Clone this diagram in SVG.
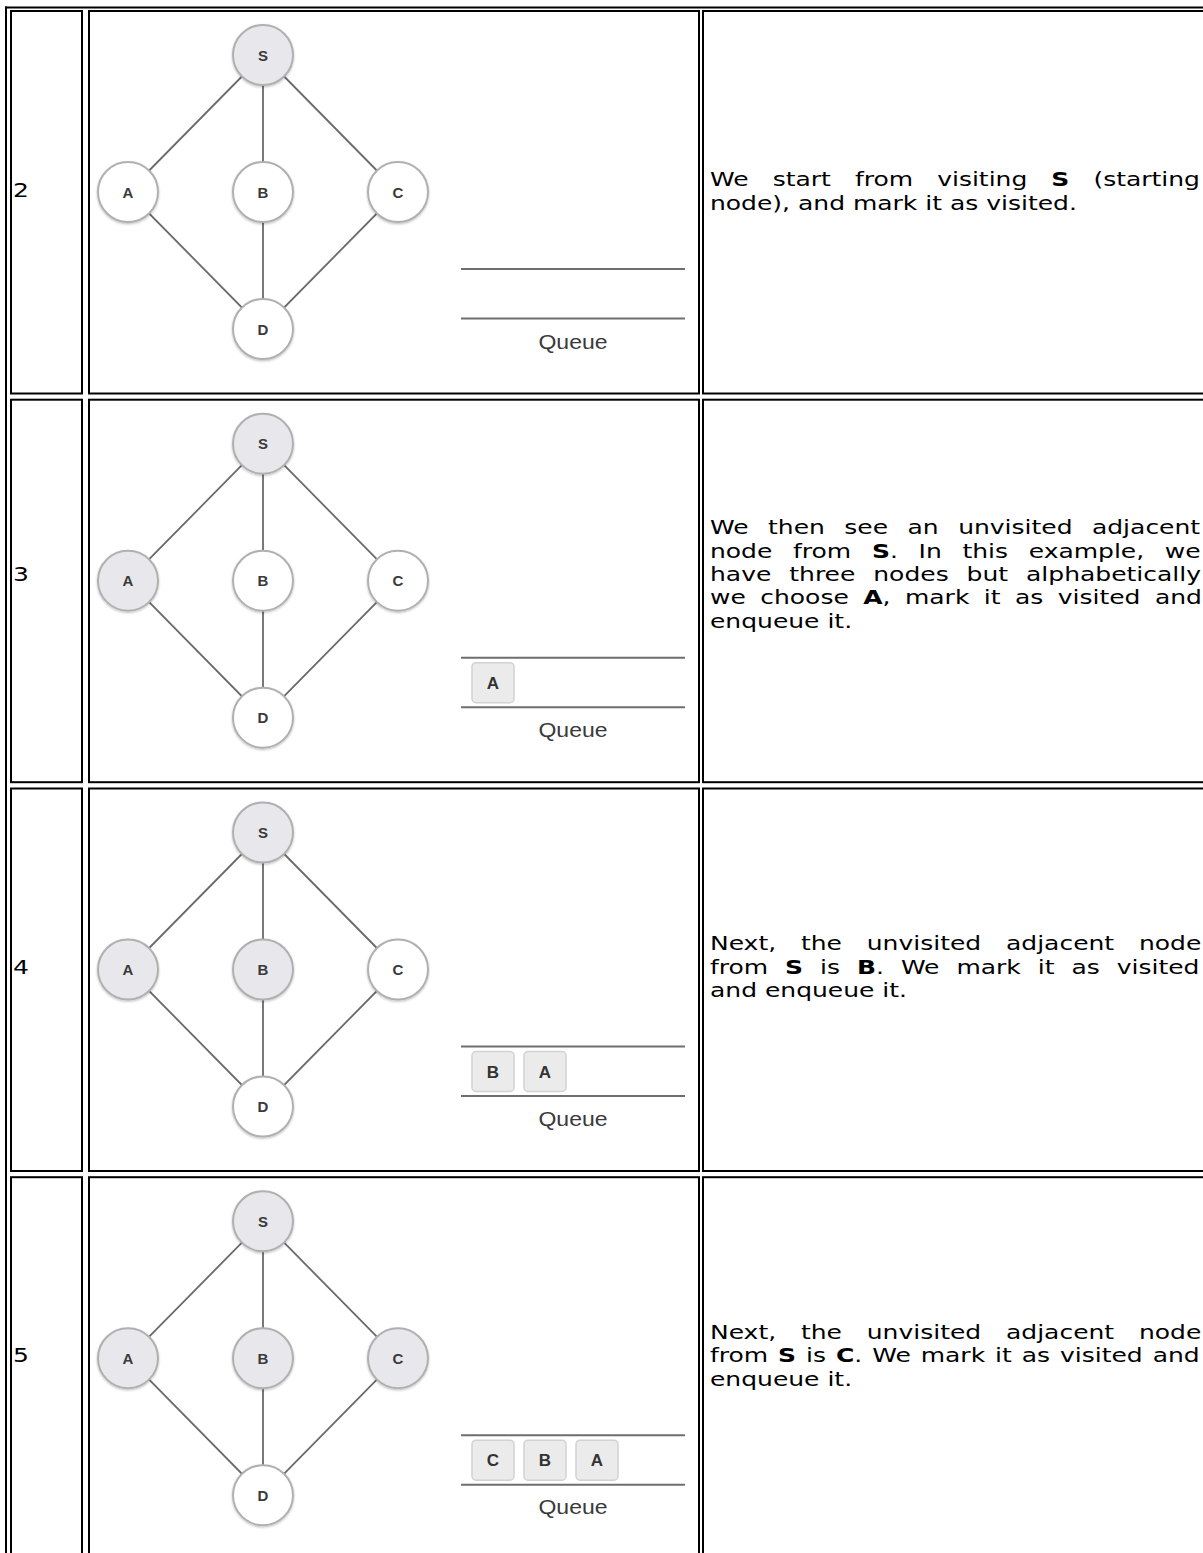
<svg xmlns="http://www.w3.org/2000/svg" width="1203" height="1553" viewBox="0 0 1203 1553">
<defs>
<style>
.cell{fill:none;stroke:#000;stroke-width:2}
.edge{stroke:#6a6a6a;stroke-width:1.8;fill:none}
.node{stroke:#b0b0b0;stroke-width:2}
.unv{fill:#ffffff}
.vis{fill:#e8e8ec}
.nl{font-family:"Liberation Sans",Arial,sans-serif;font-weight:bold;font-size:15px;fill:#3a3a3a;text-anchor:middle}
.ql{stroke:#6e6e6e;stroke-width:2}
.qb{fill:#ebebeb;stroke:#d2d2d2;stroke-width:1.5}
.qbl{font-family:"Liberation Sans",Arial,sans-serif;font-weight:bold;font-size:17px;fill:#333;text-anchor:middle}
.qt{font-family:"Liberation Sans",Arial,sans-serif;font-size:20px;fill:#3a3a3a;text-anchor:middle}
.t{font-family:"DejaVu Sans",Verdana,sans-serif;font-size:20px;fill:#000}
.b{font-weight:bold}
</style>
<filter id="sh" x="-20%" y="-20%" width="140%" height="150%">
<feDropShadow dx="0" dy="1.2" stdDeviation="1.2" flood-color="#000" flood-opacity="0.25"/>
</filter>
</defs>
<rect width="1203" height="1553" fill="#fff"/>

<g id="table">
<line x1="5" y1="7.5" x2="1203" y2="7.5" stroke="#000" stroke-width="2"/>
<line x1="6" y1="6.5" x2="6" y2="1553" stroke="#000" stroke-width="2"/>
<rect class="cell" x="11" y="11" width="71" height="382.5"/>
<rect class="cell" x="89" y="11" width="610" height="382.5"/>
<rect class="cell" x="703" y="11" width="540" height="382.5"/>
<rect class="cell" x="11" y="399.7" width="71" height="382.5"/>
<rect class="cell" x="89" y="399.7" width="610" height="382.5"/>
<rect class="cell" x="703" y="399.7" width="540" height="382.5"/>
<rect class="cell" x="11" y="788.5" width="71" height="382.5"/>
<rect class="cell" x="89" y="788.5" width="610" height="382.5"/>
<rect class="cell" x="703" y="788.5" width="540" height="382.5"/>
<rect class="cell" x="11" y="1177.2" width="71" height="382.5"/>
<rect class="cell" x="89" y="1177.2" width="610" height="382.5"/>
<rect class="cell" x="703" y="1177.2" width="540" height="382.5"/>
</g>

<g id="connectors">
<path class="edge" d="M263 55L128 192M263 55L263 192M263 55L398 192M128 192L263 329M263 192L263 329M398 192L263 329"/>
<path class="edge" d="M263 443.7L128 580.7M263 443.7L263 580.7M263 443.7L398 580.7M128 580.7L263 717.7M263 580.7L263 717.7M398 580.7L263 717.7"/>
<path class="edge" d="M263 832.5L128 969.5M263 832.5L263 969.5M263 832.5L398 969.5M128 969.5L263 1106.5M263 969.5L263 1106.5M398 969.5L263 1106.5"/>
<path class="edge" d="M263 1221.2L128 1358.2M263 1221.2L263 1358.2M263 1221.2L398 1358.2M128 1358.2L263 1495.2M263 1358.2L263 1495.2M398 1358.2L263 1495.2"/>
</g>

<g id="step2-nodes">
<g id="s2-S"><circle class="node vis" filter="url(#sh)" cx="263" cy="55" r="30"/><text class="nl" x="263" y="60.5">S</text></g>
<g id="s2-A"><circle class="node unv" filter="url(#sh)" cx="128" cy="192" r="30"/><text class="nl" x="128" y="197.5">A</text></g>
<g id="s2-B"><circle class="node unv" filter="url(#sh)" cx="263" cy="192" r="30"/><text class="nl" x="263" y="197.5">B</text></g>
<g id="s2-C"><circle class="node unv" filter="url(#sh)" cx="398" cy="192" r="30"/><text class="nl" x="398" y="197.5">C</text></g>
<g id="s2-D"><circle class="node unv" filter="url(#sh)" cx="263" cy="329" r="30"/><text class="nl" x="263" y="334.5">D</text></g>
</g>
<g id="step2-queue">
<line class="ql" x1="461" y1="269" x2="685" y2="269"/>
<line class="ql" x1="461" y1="318.5" x2="685" y2="318.5"/>
<text class="qt" transform="translate(573 349) scale(1.15 1)">Queue</text>
</g>

<g id="step3-nodes">
<g id="s3-S"><circle class="node vis" filter="url(#sh)" cx="263" cy="443.7" r="30"/><text class="nl" x="263" y="449.2">S</text></g>
<g id="s3-A"><circle class="node vis" filter="url(#sh)" cx="128" cy="580.7" r="30"/><text class="nl" x="128" y="586.2">A</text></g>
<g id="s3-B"><circle class="node unv" filter="url(#sh)" cx="263" cy="580.7" r="30"/><text class="nl" x="263" y="586.2">B</text></g>
<g id="s3-C"><circle class="node unv" filter="url(#sh)" cx="398" cy="580.7" r="30"/><text class="nl" x="398" y="586.2">C</text></g>
<g id="s3-D"><circle class="node unv" filter="url(#sh)" cx="263" cy="717.7" r="30"/><text class="nl" x="263" y="723.2">D</text></g>
</g>
<g id="step3-queue">
<line class="ql" x1="461" y1="657.7" x2="685" y2="657.7"/>
<line class="ql" x1="461" y1="707.2" x2="685" y2="707.2"/>
<g id="s3-qA"><rect class="qb" x="472" y="662.7" width="42" height="40" rx="4"/><text class="qbl" x="493" y="688.7">A</text></g>
<text class="qt" transform="translate(573 737) scale(1.15 1)">Queue</text>
</g>

<g id="step4-nodes">
<g id="s4-S"><circle class="node vis" filter="url(#sh)" cx="263" cy="832.5" r="30"/><text class="nl" x="263" y="838">S</text></g>
<g id="s4-A"><circle class="node vis" filter="url(#sh)" cx="128" cy="969.5" r="30"/><text class="nl" x="128" y="975">A</text></g>
<g id="s4-B"><circle class="node vis" filter="url(#sh)" cx="263" cy="969.5" r="30"/><text class="nl" x="263" y="975">B</text></g>
<g id="s4-C"><circle class="node unv" filter="url(#sh)" cx="398" cy="969.5" r="30"/><text class="nl" x="398" y="975">C</text></g>
<g id="s4-D"><circle class="node unv" filter="url(#sh)" cx="263" cy="1106.5" r="30"/><text class="nl" x="263" y="1112">D</text></g>
</g>
<g id="step4-queue">
<line class="ql" x1="461" y1="1046.5" x2="685" y2="1046.5"/>
<line class="ql" x1="461" y1="1096" x2="685" y2="1096"/>
<g id="s4-qB"><rect class="qb" x="472" y="1051.5" width="42" height="40" rx="4"/><text class="qbl" x="493" y="1077.5">B</text></g>
<g id="s4-qA"><rect class="qb" x="524" y="1051.5" width="42" height="40" rx="4"/><text class="qbl" x="545" y="1077.5">A</text></g>
<text class="qt" transform="translate(573 1125.5) scale(1.15 1)">Queue</text>
</g>

<g id="step5-nodes">
<g id="s5-S"><circle class="node vis" filter="url(#sh)" cx="263" cy="1221.2" r="30"/><text class="nl" x="263" y="1226.7">S</text></g>
<g id="s5-A"><circle class="node vis" filter="url(#sh)" cx="128" cy="1358.2" r="30"/><text class="nl" x="128" y="1363.7">A</text></g>
<g id="s5-B"><circle class="node vis" filter="url(#sh)" cx="263" cy="1358.2" r="30"/><text class="nl" x="263" y="1363.7">B</text></g>
<g id="s5-C"><circle class="node vis" filter="url(#sh)" cx="398" cy="1358.2" r="30"/><text class="nl" x="398" y="1363.7">C</text></g>
<g id="s5-D"><circle class="node unv" filter="url(#sh)" cx="263" cy="1495.2" r="30"/><text class="nl" x="263" y="1500.7">D</text></g>
</g>
<g id="step5-queue">
<line class="ql" x1="461" y1="1435.2" x2="685" y2="1435.2"/>
<line class="ql" x1="461" y1="1484.7" x2="685" y2="1484.7"/>
<g id="s5-qC"><rect class="qb" x="472" y="1440.2" width="42" height="40" rx="4"/><text class="qbl" x="493" y="1466.2">C</text></g>
<g id="s5-qB"><rect class="qb" x="524" y="1440.2" width="42" height="40" rx="4"/><text class="qbl" x="545" y="1466.2">B</text></g>
<g id="s5-qA"><rect class="qb" x="576" y="1440.2" width="42" height="40" rx="4"/><text class="qbl" x="597" y="1466.2">A</text></g>
<text class="qt" transform="translate(573 1514.2) scale(1.15 1)">Queue</text>
</g>

<g id="step-numbers">
<text class="t" transform="translate(13 197) scale(1.25 1)">2</text>
<text class="t" transform="translate(13 581) scale(1.25 1)">3</text>
<text class="t" transform="translate(13 973.5) scale(1.25 1)">4</text>
<text class="t" transform="translate(13 1362.2) scale(1.25 1)">5</text>
</g>

<g id="descriptions">
<text class="t" transform="translate(710 186.3) scale(1.25 1)" style="word-spacing:12.9px">We start from visiting <tspan class="b">S</tspan> (starting</text>
<text class="t" transform="translate(710 209.7) scale(1.25 1)">node), and mark it as visited.</text>

<text class="t" transform="translate(710 534.2) scale(1.25 1)" style="word-spacing:9.2px">We then see an unvisited adjacent</text>
<text class="t" transform="translate(710 557.6) scale(1.25 1)" style="word-spacing:10.2px">node from <tspan class="b">S</tspan>. In this example, we</text>
<text class="t" transform="translate(710 581) scale(1.25 1)" style="word-spacing:8px">have three nodes but alphabetically</text>
<text class="t" transform="translate(710 604.4) scale(1.25 1)" style="word-spacing:5.2px">we choose <tspan class="b">A</tspan>, mark it as visited and</text>
<text class="t" transform="translate(710 627.8) scale(1.25 1)">enqueue it.</text>

<text class="t" transform="translate(710 950.1) scale(1.25 1)" style="word-spacing:13.5px">Next, the unvisited adjacent node</text>
<text class="t" transform="translate(710 973.5) scale(1.25 1)" style="word-spacing:7.2px">from <tspan class="b">S</tspan> is <tspan class="b">B</tspan>. We mark it as visited</text>
<text class="t" transform="translate(710 996.9) scale(1.25 1)">and enqueue it.</text>

<text class="t" transform="translate(710 1338.8) scale(1.25 1)" style="word-spacing:13.5px">Next, the unvisited adjacent node</text>
<text class="t" transform="translate(710 1362.2) scale(1.25 1)" style="word-spacing:1.6px">from <tspan class="b">S</tspan> is <tspan class="b">C</tspan>. We mark it as visited and</text>
<text class="t" transform="translate(710 1385.6) scale(1.25 1)">enqueue it.</text>
</g>
</svg>
